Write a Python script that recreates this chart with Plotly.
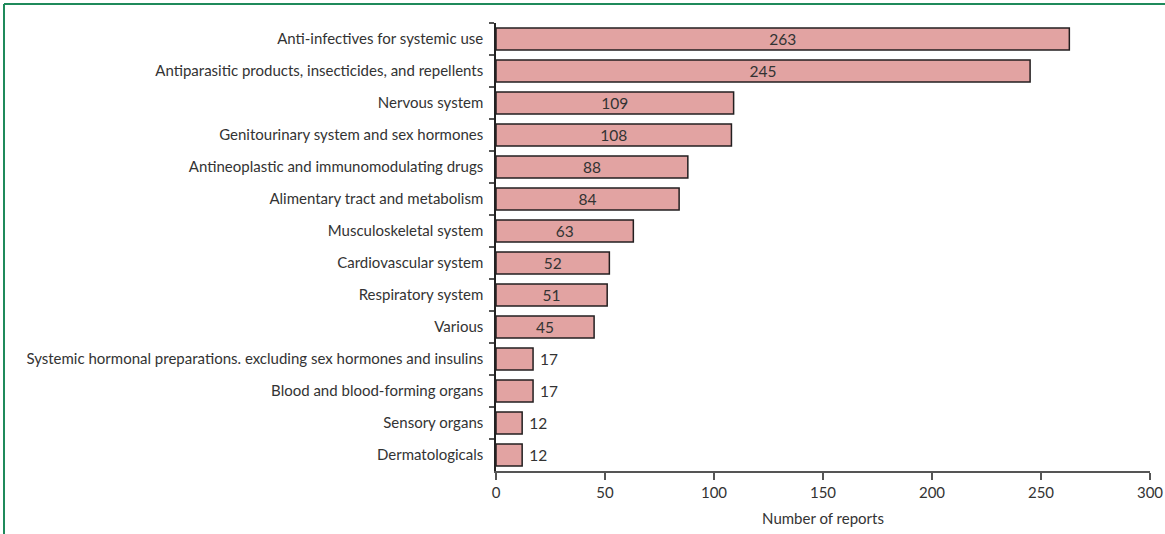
import plotly.graph_objects as go

categories = [
    "Anti-infectives for systemic use",
    "Antiparasitic products, insecticides, and repellents",
    "Nervous system",
    "Genitourinary system and sex hormones",
    "Antineoplastic and immunomodulating drugs",
    "Alimentary tract and metabolism",
    "Musculoskeletal system",
    "Cardiovascular system",
    "Respiratory system",
    "Various",
    "Systemic hormonal preparations. excluding sex hormones and insulins",
    "Blood and blood-forming organs",
    "Sensory organs",
    "Dermatologicals",
]
reports = [263, 245, 109, 108, 88, 84, 63, 52, 51, 45, 17, 17, 12, 12]
x_ticks = [0, 50, 100, 150, 200, 250, 300]

positions = ["inside" if v > 30 else "outside" for v in reports]
labels = [str(v) if v > 30 else "\u00a0" + str(v) for v in reports]

fig = go.Figure(go.Bar(
    x=reports,
    y=categories,
    orientation="h",
    width=0.69,
    marker=dict(color="#e2a3a2", line=dict(color="#231f20", width=1.5)),
    text=labels,
    textposition=positions,
    insidetextanchor="middle",
    textangle=0,
    textfont=dict(family="Lato", size=15.5, color="#333333"),
    cliponaxis=False,
    constraintext="none",
))

W, H = 1165, 534
L, R, T, B = 496, 15, 23, 63
pw, ph = W - L - R, H - T - B

def px_x(x):
    return (x - L) / pw

def px_y(y):
    return (H - B - y) / ph

green = "#1f8a5b"
fig.add_shape(type="line", xref="paper", yref="paper",
              x0=px_x(4), x1=px_x(1165), y0=px_y(4), y1=px_y(4),
              line=dict(color=green, width=2))
fig.add_shape(type="line", xref="paper", yref="paper",
              x0=px_x(4), x1=px_x(4), y0=px_y(4), y1=px_y(540),
              line=dict(color=green, width=2))

fig.update_layout(
    width=W, height=H,
    margin=dict(l=L, r=R, t=T, b=B, autoexpand=False),
    paper_bgcolor="white", plot_bgcolor="white",
    showlegend=False,
    font=dict(family="Lato", size=15, color="#333333"),
    bargap=0.31,
    xaxis=dict(
        range=[0, 300], tickvals=x_ticks, ticktext=[str(t) for t in x_ticks],
        automargin=False,
        showgrid=False, zeroline=False,
        showline=True, linecolor="#555555", linewidth=1.5,
        ticks="outside", ticklen=7, tickwidth=1.5, tickcolor="#555555",
        tickfont=dict(family="Lato", size=15, color="#333333"),
        title=dict(text="Number of reports", font=dict(family="Lato", size=15, color="#333333"), standoff=14),
    ),
    yaxis=dict(
        autorange="reversed",
        type="category",
        tickson="boundaries",
        automargin=False,
        showgrid=False, zeroline=False,
        showline=True, linecolor="#222222", linewidth=1.5,
        ticks="outside", ticklen=5, tickwidth=1.5, tickcolor="#555555",
        ticklabelstandoff=8,
        tickfont=dict(family="Lato", size=15, color="#333333"),
    ),
)

fig.write_html("out.html", config={"displayModeBar": False},
               post_script="document.body.style.margin='0';document.body.style.overflow='hidden';")
